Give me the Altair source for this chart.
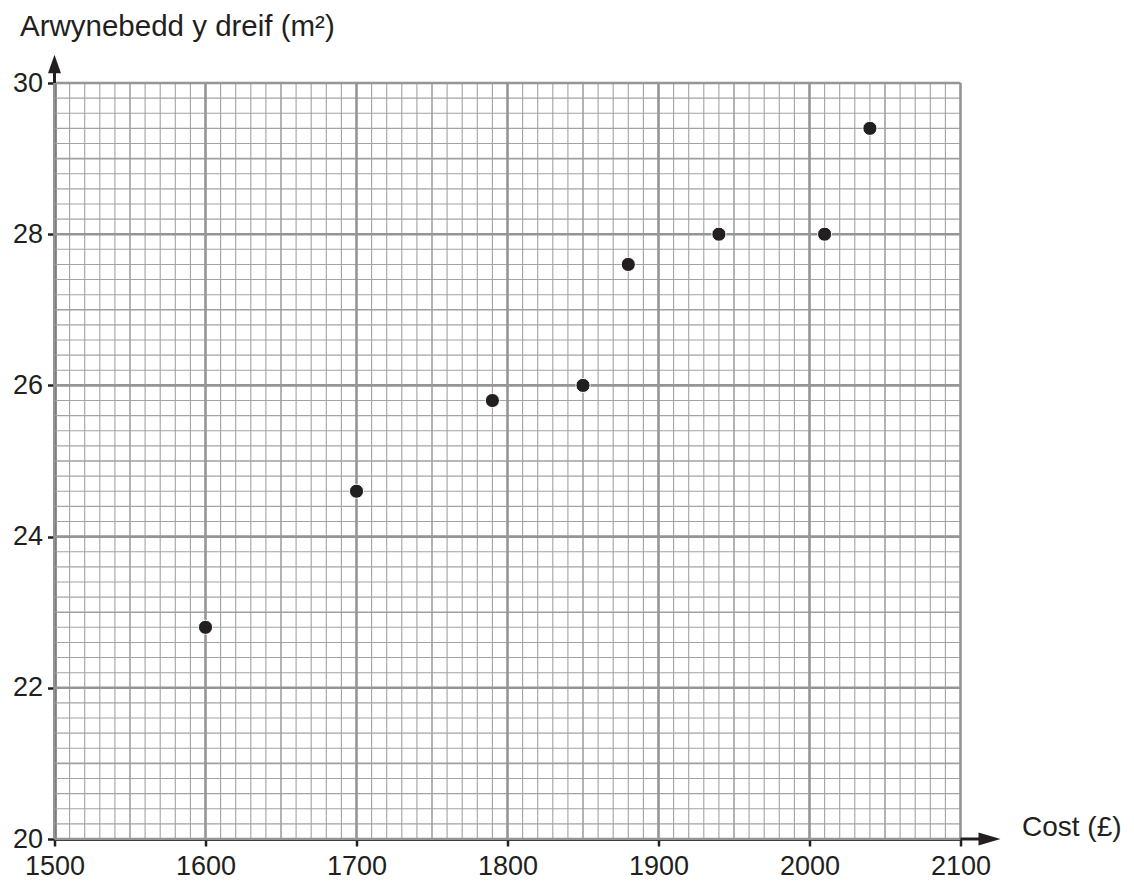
import altair as alt
import numpy as np
import pandas as pd

# Data
cost = [1600, 1700, 1790, 1850, 1880, 1940, 2010, 2040]
area = [22.8, 24.6, 25.8, 26.0, 27.6, 28.0, 28.0, 29.4]
x_ticks = [1500, 1600, 1700, 1800, 1900, 2000, 2100]
y_ticks = [20, 22, 24, 26, 28, 30]

df = pd.DataFrame({"cost": cost, "area": area})

# Graph-paper grid lines
xg = np.arange(1500, 2101, 10)
yg = np.round(np.arange(20, 30.001, 0.2), 1)


def tier_x(v):
    return "major" if v % 100 == 0 else ("mid" if v % 50 == 0 else "minor")


def tier_y(v):
    r = round(v * 10)
    return "major" if r % 20 == 0 else ("mid" if r % 10 == 0 else "minor")


gx = pd.DataFrame({"v": xg, "tier": [tier_x(v) for v in xg]})
gy = pd.DataFrame({"v": yg, "tier": [tier_y(v) for v in yg]})

INK = "#231f20"
FONT = "Liberation Sans"
W, H = 906, 756

xs = alt.Scale(domain=[1500, 2100], nice=False, zero=False)
ys = alt.Scale(domain=[20, 30], nice=False, zero=False)

xaxis = alt.Axis(
    values=x_ticks, grid=False, format="d",
    domainColor=INK, domainWidth=3, tickColor=INK, tickWidth=2.5, tickSize=7,
    labelFont=FONT, labelFontSize=27, labelColor=INK, labelPadding=7,
    labelFlush=False, labelOverlap=False,
    title="Cost (£)", titleFont=FONT, titleFontSize=28, titleFontWeight="normal",
    titleColor=INK, titleAngle=0, titleAlign="left", titleBaseline="alphabetic",
    titleX=967, titleY=-4,
)
yaxis = alt.Axis(
    values=y_ticks, grid=False, format="d",
    domainColor=INK, domainWidth=3, tickColor=INK, tickWidth=2.5, tickSize=7,
    labelFont=FONT, labelFontSize=27, labelColor=INK, labelPadding=5,
    labelFlush=False, labelOverlap=False,
    title="Arwynebedd y dreif (m²)", titleFont=FONT, titleFontSize=29.5,
    titleFontWeight="normal", titleColor=INK, titleAngle=0, titleAlign="left",
    titleBaseline="alphabetic", titleX=-35, titleY=-48,
)

styles = {"minor": ("#a3a3a3", 1.1), "mid": ("#a0a0a0", 1.6), "major": ("#959595", 2.6)}
layers = []
for t in ["minor", "mid", "major"]:
    c, w = styles[t]
    layers.append(
        alt.Chart(gx[gx.tier == t]).mark_rule(color=c, strokeWidth=w).encode(
            x=alt.X("v:Q", scale=xs, axis=xaxis)
        )
    )
    layers.append(
        alt.Chart(gy[gy.tier == t]).mark_rule(color=c, strokeWidth=w).encode(
            y=alt.Y("v:Q", scale=ys, axis=yaxis)
        )
    )

points = alt.Chart(df).mark_circle(size=200, color=INK, opacity=1, stroke="white", strokeWidth=1).encode(
    x=alt.X("cost:Q", scale=xs, axis=xaxis),
    y=alt.Y("area:Q", scale=ys, axis=yaxis),
)

one = pd.DataFrame({"a": [0]})
y_shaft = alt.Chart(one).mark_rule(color=INK, strokeWidth=3).encode(
    x=alt.value(0), y=alt.value(0), y2=alt.value(-20)
)
y_head = alt.Chart(one).mark_point(
    shape="M0,-1L0.7,1L-0.7,1Z", size=340, filled=True, color=INK, opacity=1, strokeWidth=0
).encode(x=alt.value(0), y=alt.value(-19))
x_shaft = alt.Chart(one).mark_rule(color=INK, strokeWidth=3).encode(
    x=alt.value(W), x2=alt.value(W + 22), y=alt.value(H)
)
x_head = alt.Chart(one).mark_point(
    shape="M1,0L-1,0.6L-1,-0.6Z", size=484, filled=True, color=INK, opacity=1, strokeWidth=0
).encode(x=alt.value(W + 29), y=alt.value(H))

chart = alt.layer(*layers, points, y_shaft, y_head, x_shaft, x_head).properties(
    width=W, height=H,
    autosize=alt.AutoSizeParams(type="none"),
    padding={"left": 46.5, "top": 75, "right": 160, "bottom": 42},
    background="white",
).configure_view(stroke=None)

chart.save("out.html", embed_options={"renderer": "svg", "actions": False})
